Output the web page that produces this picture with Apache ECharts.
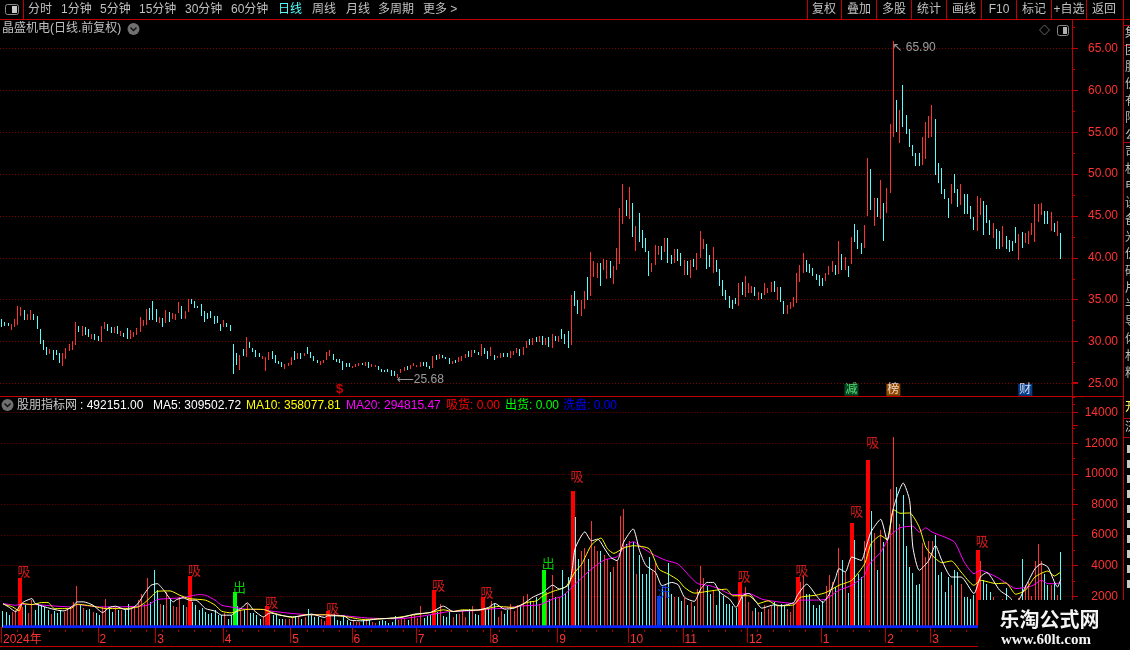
<!DOCTYPE html>
<html><head><meta charset="utf-8">
<style>html,body{margin:0;padding:0;background:#000}#c{width:1130px;height:650px}</style>
<script src="https://cdn.jsdelivr.net/npm/echarts@6/dist/echarts.min.js"></script>
</head><body><div id="c"></div>
<script>
const directions = ("cccrrrrcrr cccccrcccr rrrrcrccrc crrccrcrcc rrrrrrcccr crcrrrcrrc cccccccccr ccccrcrccc crrrccccrr rcrcrccccr "+
"rrrccccccr rrcrcrrccc cccrrrcrrr rcccrcrccc rcrrrcrccr ccrcrrccrr rcrrcrcrcr crcrcccrcc rrcrrrcrrc rrrrcrcrcc "+
"ccrrrcrccr ccrcrcrrrc crcccccccr crrrcrcrrr crccrrrrrr ccccccrrrc rcrcrcccrr crcrcrrrcr ccccccrrrr cccccrccrc "+
"cccrrcccrc crccccrcrrr rrrcc rcrcc").replace(/ /g,"").split("");
const highs = [32.66,32.4,32.18,32.06,32.66,34.3,34.1,33.73,33.25,33.73,33.25,33.0,31.47,30.16,29.32,29.09,28.97,28.97,28.61,28.61,
29.2,29.68,30.04,32.3,31.82,31.82,31.7,31.47,30.87,30.87,30.63,31.82,32.4,32.06,31.7,31.7,31.82,31.23,31.0,31.58,
31.35,31.11,31.58,32.9,32.54,33.85,34.0,34.8,33.85,32.9,32.78,33.73,33.5,33.37,33.25,34.68,34.2,33.6,35.04,35.04,
34.8,34.3,34.44,33.6,33.37,33.6,33.0,33.1,32.06,32.54,32.18,31.94,29.68,28.61,28.37,29.09,30.5,29.92,29.2,29.05,
28.61,28.3,28.13,28.73,28.85,28.37,27.66,27.54,27.3,27.42,28.13,28.85,28.61,
28.61,28.61,29.32,28.73,28.25,27.77,27.65,27.77,28.73,28.97,28.49,27.89,27.89,27.65,27.42,27.42,27.06,27.3,27.42,27.42,
27.54,27.54,27.3,27.18,27.06,26.7,26.58,26.7,26.58,26.46,26.11,26.7,26.94,27.06,27.18,27.42,27.18,27.54,27.54,27.54,
27.06,28.25,28.37,28.49,28.37,28.13,28.01,27.65,27.77,28.13,28.25,28.49,28.85,28.97,28.97,28.73,29.68,29.2,28.85,29.32,
28.37,28.25,28.61,28.61,28.61,28.85,28.85,29.2,29.08,29.32,30.04,30.27,30.39,30.51,30.63,30.63,30.39,30.51,30.87,30.63,
30.63,31.46,30.87,31.23,35.51,35.99,34.92,34.92,35.99,37.77,40.75,39.68,39.44,
39.33,39.92,39.69,39.57,38.97,41.23,46.0,48.85,46.95,48.5,46.59,43.85,45.4,43.38,42.42,40.76,39.33,41.59,41.47,41.47,
42.42,42.42,40.4,41.0,41.0,40.52,39.8,39.57,39.8,39.92,40.52,43.26,42.3,41.71,40.4,41.35,39.69,38.61,37.3,36.11,
35.4,34.92,35.16,36.95,37.07,37.78,36.95,36.59,36.47,35.88,35.76,36.95,36.35,37.07,37.19,36.47,36.47,34.8,34.33,34.69,
35.28,38.14,39.09,40.52,39.69,39.21,38.73,38.02,37.9,37.54,38.14,38.97,39.57,39.09,42.07,
40.51,40.16,39.08,42.54,44.08,43.37,41.82,43.96,51.94,50.63,47.18,47.18,49.32,46.58,48.37,55.99,65.9,58.85,57.66,60.63,
57.06,55.39,53.49,52.54,52.54,54.44,56.23,56.94,58.25,56.58,51.35,50.75,48.25,47.18,48.85,50.04,48.25,48.85,47.66,47.66,
46.23,44.92,47.42,47.18,46.82,46.34,44.56,44.2,43.49,43.25,43.85,42.65,42.18,42.06,43.73,42.89,43.13,43.01,43.25,44.2,
46.46,46.46,46.58,45.63,45.63,45.51,44.2,44.44,43.01];
const lows = [31.74,31.82,31.86,31.35,31.7,31.94,33.0,32.54,32.54,32.54,32.54,31.47,29.68,28.97,28.37,28.49,27.78,28.37,27.42,27.06,
27.9,28.85,28.97,29.56,31.11,30.63,30.75,30.5,30.28,30.16,30.04,29.92,31.47,31.23,31.0,31.0,30.87,30.63,30.5,30.28,
30.28,30.5,30.75,31.11,31.82,31.94,32.54,32.54,32.3,32.18,31.7,32.18,32.3,32.66,32.54,33.37,32.66,32.66,33.5,34.44,
33.97,33.97,33.1,32.4,32.66,32.78,32.06,32.18,31.23,31.7,31.7,31.23,26.11,27.18,26.58,28.25,28.13,29.2,28.73,28.13,
28.13,27.9,26.47,27.78,27.9,27.42,27.3,26.94,26.7,27.06,27.18,27.78,27.9,
27.89,28.25,28.49,28.01,27.65,27.42,27.18,27.42,27.77,28.25,27.77,27.54,27.42,26.58,26.94,26.94,26.82,26.94,27.06,27.18,
27.06,26.82,26.94,26.94,26.58,26.35,26.35,26.35,25.87,25.87,25.68,26.23,26.46,26.58,26.7,27.06,26.94,26.94,27.06,26.94,
26.7,26.82,27.77,27.89,28.01,27.89,27.3,27.3,27.42,27.54,27.65,28.01,28.13,28.13,28.61,28.37,28.25,28.49,27.89,28.25,
27.77,28.01,28.01,28.13,28.13,28.01,28.37,28.61,28.25,28.37,29.2,29.56,29.56,29.92,29.92,29.56,29.56,29.32,29.2,30.04,
29.92,30.27,29.68,29.2,29.56,34.2,33.25,33.0,33.85,34.92,35.39,37.77,37.54,
36.59,38.5,37.42,37.54,36.83,38.5,39.21,44.09,45.04,44.69,42.54,40.76,41.95,41.23,40.64,37.78,38.26,39.09,40.4,39.69,
40.64,39.33,39.21,39.33,39.57,38.97,37.9,37.9,37.54,38.85,38.5,40.04,41.0,38.61,38.85,38.14,38.26,36.59,35.4,34.92,
33.97,33.85,34.45,34.21,35.52,35.28,35.76,35.76,35.4,34.92,35.04,35.52,35.76,35.88,35.88,34.92,34.69,33.26,33.26,33.85,
34.09,34.57,37.07,38.14,38.26,38.14,37.78,37.3,36.59,36.59,37.19,37.9,38.26,37.9,38.02,
38.49,38.49,37.7,39.28,41.94,41.11,40.51,41.23,45.04,45.75,43.85,44.92,44.68,42.06,45.39,47.77,54.44,55.04,53.73,55.63,
54.8,53.25,52.18,50.99,50.99,51.11,51.82,54.32,54.44,49.92,48.96,47.66,47.06,44.8,46.46,47.77,46.11,46.34,45.28,45.28,
44.68,43.37,43.25,45.15,42.77,44.2,42.77,42.42,41.11,41.11,41.35,41.11,40.75,40.87,41.82,39.8,41.23,41.82,41.7,42.77,
41.94,44.32,45.15,44.08,44.08,43.25,43.13,42.65,39.92];
const volumes = [1020,955,760,955,1085,3210,1300,1410,870,1740,1085,1410,1410,1300,1085,825,1040,870,1085,975,
1085,1300,1630,2650,1520,1260,1085,1190,975,870,740,1300,1845,1190,975,1300,1130,1130,1130,1520,
1345,1300,1740,2170,1520,3210,1630,3690,2430,1520,1410,2280,1740,1345,1300,1950,1410,1300,3300,1630,
1410,1085,1260,975,825,910,1085,760,760,870,480,760,2260,1370,1085,1085,1520,870,870,760,
540,650,1370,870,760,760,540,540,540,540,
610,650,610,520,650,1150,780,610,610,480,390,1050,720,830,430,390,700,430,330,390,
290,290,420,350,430,290,250,350,420,360,250,290,700,440,500,510,440,700,810,590,
1370,600,700,760,2400,940,1480,720,650,940,650,830,830,1050,610,1150,1370,830,780,1960,
1150,1260,1700,1480,650,1050,830,1090,1480,1050,1440,1370,2030,2140,1700,1700,1920,1480,3700,2250,
1810,3400,1920,1870,3700,2180,3230,8900,7190,4430,4970,5150,4430,6930,5300,4970,4970,4700,4430,3550,
3880,4320,7220,7700,5400,5620,5515,3440,4710,3440,3440,4530,3660,4200,2030,2570,2570,4200,2130,1920,
1980,1700,1870,1440,1590,1370,2460,3990,3160,2680,2130,2350,1440,2310,2030,1480,1480,1330,1260,2940,
1920,2570,1590,1050,1260,940,1000,1440,1150,1370,1590,1330,1480,1330,1150,1000,1480,3270,2960,3335,
2130,2130,1440,1260,1440,1700,2680,3400,2900,2620,5150,4380,3580,2210,6770,5700,3470,3250,5640,10900,
7600,6140,3690,6340,5530,5750,9000,12430,9160,6730,8640,5250,3900,3520,2710,2820,5490,4560,5640,5640,
5970,3360,3580,2280,3250,2710,3730,3580,2820,1950,1950,1840,2060,4990,4300,3040,2820,2280,1950,1700,
1700,1800,2540,1700,1600,1500,1900,4450,2710,2930,2000,4270,5425,4270,3470,2710,2710,2930,2060,4921.5];
const baseline = volumes.map(()=>0);
const buyDays = [5,58,82,101,134,149,177,229,247,264,269,303];
const sellDays = [72,168];
const washDays = [204];
const ma5 = [[0,1520],[2,1260],[4,975],[5,1300],[6,1560],[7,1690],[9,1845],[10,1520],[13,1300],[17,1085],[19,1040],[22,1410],[23,1630],[25,1630],[28,1410],[31,930],[33,1260],[35,1345],[38,1130],[40,1190],[42,1520],[44,2170],[46,2710],[48,2820],[50,2390],[53,1630],[54,1780],[56,1890],[58,1740],[60,1740],[63,1190],[66,1020],[68,760],[71,760],[73,1085],[74,1190],[76,1560],[78,1085],[81,650],[83,910],[86,760],[90,650],[93,720],[96,830],[100,610],[101,720],[106,720],[108,436],[112,392],[116,500],[121,567],[124,610],[128,830],[133,940],[137,1350],[140,1000],[143,1050],[148,1110],[151,1265],[153,1525],[156,1155],[159,1220],[162,1525],[165,1960],[168,2245],[171,2725],[173,2465],[176,2750],[177,3700],[178,5145],[181,6210],[183,5620],[185,5730],[187,5145],[189,4540],[191,4320],[193,5515],[196,6400],[198,4970],[200,4000],[203,3550],[205,2685],[208,2900],[210,2750],[212,1920],[215,1660],[217,2460],[219,2900],[221,2900],[223,2245],[226,1810],[228,1265],[230,2030],[232,2180],[234,1700],[236,1220],[240,1440],[242,1375],[246,1590],[247,2030],[250,2790],[253,2030],[255,1590],[257,2140],[259,3230],[260,3800],[262,3580],[264,4560],[267,4340],[268,4880],[270,6200],[273,7030],[275,5640],[277,7810],[280,9400],[282,8250],[283,5208],[285,3690],[288,4340],[290,5315],[292,4340],[295,3255],[298,3255],[302,2170],[304,3255],[306,3540],[310,2390],[313,1950],[315,1500],[318,2600],[321,3800],[323,4120],[325,3900],[328,2600],[329,3095]];
const ma10 = [[0,1475],[3,1300],[5,1040],[6,1520],[9,1450],[12,1585],[14,1585],[16,1190],[21,1190],[23,1475],[28,1345],[32,1190],[38,1190],[42,1300],[44,1560],[46,1950],[48,2320],[52,2345],[55,2060],[58,1845],[63,1740],[66,1410],[68,1020],[71,910],[74,1085],[77,1150],[81,1130],[84,910],[90,610],[94,785],[101,785],[107,650],[112,480],[121,567],[128,785],[133,940],[137,1110],[140,1000],[143,1110],[148,1090],[154,1330],[159,1265],[163,1590],[166,1700],[168,2030],[171,2310],[175,2615],[178,3600],[180,4090],[183,5340],[186,5800],[188,5100],[190,4800],[193,5145],[196,5300],[201,5100],[204,3770],[207,3440],[210,3050],[212,2570],[215,2200],[219,2310],[222,2400],[225,2460],[227,2030],[230,2030],[232,2030],[235,1525],[238,1700],[241,1375],[246,1440],[248,1920],[253,2070],[256,2245],[260,2710],[264,3040],[268,4120],[270,5425],[273,5965],[275,5685],[277,7660],[279,7420],[282,7440],[285,6510],[287,5208],[289,4665],[292,4190],[295,4300],[298,3580],[302,2710],[304,3040],[309,2820],[312,2860],[315,2125],[318,2390],[321,3255],[325,3645],[327,3320],[329,3581]];
const ma20 = [[0,1520],[4,1410],[6,1475],[10,1450],[17,1345],[21,1300],[23,1450],[30,1300],[36,1300],[42,1345],[45,1410],[48,1780],[52,1845],[56,1910],[61,2105],[63,2060],[66,1740],[68,1410],[72,1260],[77,1130],[81,1130],[83,1040],[90,870],[96,785],[101,785],[107,700],[114,567],[123,523],[131,720],[139,1000],[146,1050],[151,1155],[156,1220],[162,1375],[167,1440],[171,1810],[174,2000],[178,2790],[183,3770],[187,4360],[191,4580],[193,5145],[196,5560],[199,5145],[202,4750],[206,4360],[210,4100],[213,3440],[216,2835],[220,2680],[223,2460],[226,2140],[228,2100],[232,2180],[236,1810],[240,1660],[246,1525],[248,1745],[253,1745],[256,1810],[260,2390],[264,2710],[268,3360],[269,3970],[273,4880],[276,5965],[279,6470],[283,6575],[285,6185],[287,6470],[289,6185],[293,5860],[296,5530],[299,4230],[302,3470],[304,3690],[309,3255],[312,2860],[315,2500],[320,2670],[323,3040],[325,2820],[328,2820],[329,2948]];
const monthStarts = [0,30,48,69,90,109,129,152,173,195,212,232,255,275,289];
const monthLabels = ["2024年","2","3","4","5","6","7","8","9","10","11","12","1","2","3"];
const eventDays = [105,264,277,318];
const eventLabels = ["$","减","榜","财"];
const slotCount = 333;
const categories = Array.from({length:slotCount},(_,i)=>"d"+i);
const toolbarLeft = [["分时",28],["1分钟",61],["5分钟",100],["15分钟",139],["30分钟",185],["60分钟",231],["日线",278],["周线",312],["月线",346],["多周期",378],["更多 >",423]];
const toolbarRight = [["复权",824],["叠加",859],["多股",894],["统计",929],["画线",964],["F10",999],["标记",1034],["+自选",1069],["返回",1104]];
const legendRow = [["股朋指标网",17,"#c8c8c8"],[": 492151.00",80,"#ffffff"],["MA5: 309502.72",153,"#ffffff"],["MA10: 358077.81",246,"#ffff00"],["MA20: 294815.47",346,"#ff00ff"],["吸货: 0.00",446,"#ff0000"],["出货: 0.00",505,"#00ff00"],["洗盘: 0.00",563,"#0000ff"]];

const RED="#ff3232", CYAN="#54ffff", AXIS="#c00000", DOT="#7a0000", FONT='"Liberation Sans","Noto Sans CJK SC",sans-serif';
const txt=(s,x,y,fill,size,align,extra)=>({type:"text",x,y,z:110,style:Object.assign({text:s,fill,font:(size||12)+"px "+FONT,align:align||"left",verticalAlign:"middle"},extra||{})});
const line=(x1,y1,x2,y2,c,z)=>({type:"line",z:z||108,shape:{x1,y1,x2,y2},style:{stroke:c||AXIS,lineWidth:1}});
const sep=[23.5,807.5,841.5,876.5,911.5,946.5,981.5,1016.5,1051.5,1086.5,1123.5];
const sideChars="集团股份有限公司机电设备光伏硅片半导体材料".split("");
const gfx=[
 {type:"rect",z:105,shape:{x:0,y:0,width:1130,height:19.5},style:{fill:"#000"}},
 ...sep.map(x=>line(x,0,x,19.5)),
 line(0,19.5,1130,19.5),
 line(0,396.5,1123,396.5),
 line(0,646.5,1072,646.5),
 line(1123.5,19.5,1123.5,600),
 line(1123,25.5,1130,25.5),line(1123,45.5,1130,45.5),line(1123,142.5,1130,142.5),line(1123,418.5,1130,418.5),line(1123,437.5,1130,437.5),
 {type:"rect",z:110,shape:{x:5.5,y:4.5,width:13,height:10,r:2},style:{fill:"#000",stroke:"#8a8a8a",lineWidth:1}},
 {type:"rect",z:111,shape:{x:12,y:6,width:5,height:7},style:{fill:"#c8c8c8"}},
 ...toolbarLeft.map(t=>txt(t[0],t[1],10,t[0]==="日线"?CYAN:"#c0c0c0",12)),
 ...toolbarRight.map(t=>txt(t[0],t[1],10,"#c0c0c0",12,"center")),
 txt("晶盛机电(日线.前复权)",2,29,"#c0c0c0",12),
 {type:"circle",z:110,shape:{cx:133.5,cy:29,r:6},style:{fill:"#707070"}},
 {type:"polyline",z:111,shape:{points:[[130.5,27.5],[133.5,30.5],[136.5,27.5]]},style:{stroke:"#111",fill:"none",lineWidth:1.4}},
 {type:"polygon",z:110,shape:{points:[[1044.5,25],[1049.5,30],[1044.5,35],[1039.5,30]]},style:{fill:"none",stroke:"#666",lineWidth:1}},
 {type:"rect",z:110,shape:{x:1057.5,y:25.5,width:11,height:10,r:2},style:{fill:"#000",stroke:"#8a8a8a",lineWidth:1}},
 {type:"rect",z:111,shape:{x:1063,y:27,width:4,height:7},style:{fill:"#b0b0b0"}},
 {type:"circle",z:110,shape:{cx:7.5,cy:405,r:6},style:{fill:"#707070"}},
 {type:"polyline",z:111,shape:{points:[[4.5,403.5],[7.5,406.5],[10.5,403.5]]},style:{stroke:"#111",fill:"none",lineWidth:1.4}},
 ...legendRow.map(t=>txt(t[0],t[1],405.5,t[2],12)),
 ...sideChars.map((ch,i)=>txt(ch,1125,34+i*17,"#bdbdbd",12)),
 txt("开",1125,408,"#ffff66",12),txt("济",1125,428,"#d0d0d0",12),
 ...[445,460,475,490,505,520,535,550,565,580].map(y=>({type:"rect",z:109,shape:{x:1127,y:y,width:3,height:8},style:{fill:"#c8c8c8"}})),
 {type:"rect",z:120,shape:{x:978,y:600,width:152,height:50},style:{fill:"#000"}},
 {type:"text",x:1049.5,y:619,z:121,style:{text:"乐淘公式网",fill:"#f4f4f4",font:'bold 20px "Noto Sans CJK SC",sans-serif',align:"center",verticalAlign:"middle"}},
 {type:"text",x:1046,y:640,z:121,style:{text:"www.60lt.com",fill:"#f4f4f4",font:'bold 15px "Liberation Serif",serif',align:"center",verticalAlign:"middle"}}
];
// one pixel-snapped stick per day, placed through the axis scales
const stick=(params,api)=>{
 const x=api.coord([api.value(0),0])[0], yH=api.coord([api.value(0),api.value(1)])[1], yL=api.coord([api.value(0),api.value(2)])[1];
 const top=Math.round(yH);
 return {type:"rect",shape:{x:Math.floor(x),y:top,width:1,height:Math.max(1,Math.round(yL)-top)},style:{fill:api.value(3)?RED:CYAN}};
};
const thick=color=>(params,api)=>{
 const x=api.coord([api.value(0),0])[0], yH=api.coord([api.value(0),api.value(1)])[1], y0=api.coord([api.value(0),0])[1];
 const top=Math.round(yH);
 return {type:"rect",shape:{x:Math.floor(x)-1,y:top,width:4,height:Math.round(y0)-top},style:{fill:color}};
};
const signal=(name,days,color)=>({name,type:"custom",xAxisIndex:1,yAxisIndex:1,z:4,encode:{x:0,y:1},
 renderItem:thick(color),data:days.map(d=>[d,volumes[d]])});
const signalText=(days,color,text)=>days.map(d=>({value:[d,volumes[d]*1.1],label:{formatter:text,color}}));
const option={
 backgroundColor:"#000",animation:false,
 graphic:{elements:gfx},
 grid:[{left:0,width:1072,top:6.6,height:418.75},{left:0,width:1072,top:382,height:244.8}],
 xAxis:[
  {type:"category",gridIndex:0,data:categories,show:false},
  {type:"category",gridIndex:1,data:categories,position:"bottom",offset:3,
   axisLine:{lineStyle:{color:AXIS,width:1}},
   axisTick:{show:true,length:16,interval:i=>monthStarts.includes(i),lineStyle:{color:AXIS}},
   axisLabel:{show:true,interval:i=>monthStarts.includes(i),formatter:(v,i)=>monthLabels[monthStarts.indexOf(i)]||"",color:RED,fontSize:12,fontFamily:FONT,align:"left",margin:4,hideOverlap:false,showMinLabel:true},
   splitLine:{show:false}},
  {type:"category",gridIndex:1,data:categories,position:"bottom",offset:3,
   axisLine:{show:false},
   axisTick:{show:true,length:2,interval:i=>i%5===0,lineStyle:{color:AXIS}},
   axisLabel:{show:false},splitLine:{show:false}}
 ],
 yAxis:[
  {type:"value",gridIndex:0,position:"right",min:20,max:70,interval:5,
   axisLine:{show:true,lineStyle:{color:AXIS,width:1}},
   axisTick:{show:true,length:6,lineStyle:{color:AXIS}},
   minorTick:{show:true,splitNumber:2,length:3,lineStyle:{color:AXIS}},
   axisLabel:{margin:46,align:"right",color:RED,fontSize:12,fontFamily:FONT,formatter:v=>(v===20||v===70)?"":v.toFixed(2)},
   splitLine:{show:true,showMinLine:false,showMaxLine:false,lineStyle:{color:DOT,type:[1,2],width:1}}},
  {type:"value",gridIndex:1,position:"right",min:0,max:16000,interval:2000,
   axisLine:{show:true,lineStyle:{color:AXIS,width:1}},
   axisTick:{show:true,length:6,lineStyle:{color:AXIS}},
   minorTick:{show:true,splitNumber:2,length:3,lineStyle:{color:AXIS}},
   axisLabel:{margin:46,align:"right",color:RED,fontSize:12,fontFamily:FONT,formatter:v=>(v===0||v===16000)?"":String(v)},
   splitLine:{show:true,showMinLine:false,showMaxLine:false,lineStyle:{color:DOT,type:[1,2],width:1}}}
 ],
 series:[
  {name:"K",type:"custom",xAxisIndex:0,yAxisIndex:0,z:3,encode:{x:0,y:[1,2]},renderItem:stick,
   data:highs.map((h,i)=>[i,h,lows[i],directions[i]==="r"?1:0])},
  {name:"extremes",type:"scatter",xAxisIndex:0,yAxisIndex:0,symbolSize:0,z:5,
   data:[{value:[123,Math.min(...lows)],label:{formatter:"⟵25.68",offset:[-1,2]}},
         {value:[277,Math.max(...highs)],label:{formatter:"↖ 65.90",offset:[-1,7]}}],
   label:{show:true,position:"right",distance:0,color:"#c0c0c0",fontSize:12,fontFamily:'"Liberation Sans","DejaVu Sans",sans-serif'}},
  {name:"events",type:"scatter",xAxisIndex:0,yAxisIndex:0,symbolSize:0,z:5,
   data:eventDays.map((d,i)=>({value:[d,24.25],label:{
     formatter:eventLabels[i],
     color:["#ff0000","#66ff88","#ffffff","#ffffff"][i],
     backgroundColor:["transparent","#0a5a2a","#b85a00","#0a4fb0"][i],
     fontSize:i===0?13:12,
     fontWeight:i===0?"bold":"normal"}})),
   label:{show:true,position:"inside",padding:[0,1],fontFamily:FONT}},
  {name:"VOL",type:"custom",xAxisIndex:1,yAxisIndex:1,z:2,encode:{x:0,y:[1,2]},renderItem:stick,
   data:volumes.map((v,i)=>[i,v,0,directions[i]==="r"?1:0])},
  signal("吸货",buyDays,"#ff0000"),
  signal("出货",sellDays,"#00ff00"),
  signal("洗盘",washDays,"#0040ff"),
  {name:"signal labels",type:"scatter",xAxisIndex:1,yAxisIndex:1,symbolSize:0,z:10,
   data:[...signalText(buyDays,"#ff2020","吸"),...signalText(sellDays,"#00ff00","出"),...signalText(washDays,"#0040ff","洗")],
   label:{show:true,position:"inside",offset:[5,0],fontSize:13,fontFamily:FONT}},
  {name:"base",type:"line",xAxisIndex:1,yAxisIndex:1,data:baseline,symbol:"none",z:6,lineStyle:{color:"#0a22ff",width:3}},
  {name:"MA20",type:"line",xAxisIndex:1,yAxisIndex:1,data:ma20,symbol:"none",smooth:0.2,z:7,lineStyle:{color:"#ff00ff",width:1}},
  {name:"MA10",type:"line",xAxisIndex:1,yAxisIndex:1,data:ma10,symbol:"none",smooth:0.2,z:8,lineStyle:{color:"#ffff00",width:1}},
  {name:"MA5",type:"line",xAxisIndex:1,yAxisIndex:1,data:ma5,symbol:"none",smooth:0.2,z:9,lineStyle:{color:"#ffffff",width:1}}
 ]
};
const chart=echarts.init(document.getElementById("c"),null,{renderer:"canvas",width:1130,height:650});
chart.setOption(option);
</script></body></html>
